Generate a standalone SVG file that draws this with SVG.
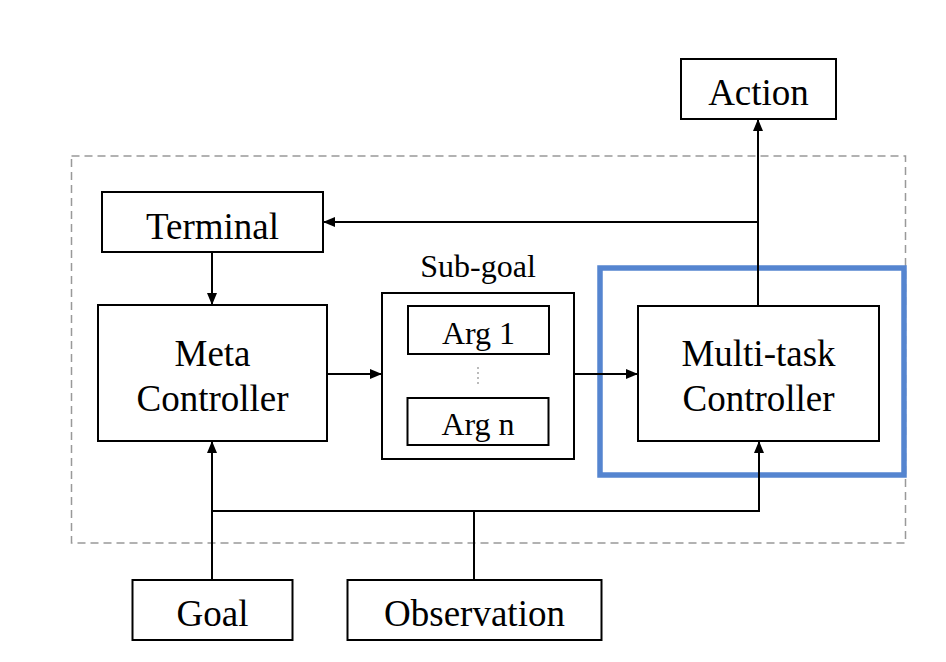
<svg xmlns="http://www.w3.org/2000/svg" width="946" height="662" viewBox="0 0 946 662">
<style>
.box{fill:#fff;stroke:#000;stroke-width:2}
.t{font-family:"Liberation Serif","Times New Roman",serif;font-size:37px;fill:#000;text-anchor:middle}
.s{font-family:"Liberation Serif","Times New Roman",serif;font-size:32px;fill:#000;text-anchor:middle}
.c{fill:none;stroke:#000;stroke-width:2}
</style>
<defs>
<marker id="ah" viewBox="0 0 12 10" refX="12" refY="5" markerWidth="12" markerHeight="10" markerUnits="userSpaceOnUse" orient="auto">
<path d="M0,0 L12,5 L0,10 z" fill="#000"/>
</marker>
</defs>
<rect width="946" height="662" fill="#fff"/>
<g id="container">
<rect x="71.5" y="156" width="834" height="387" fill="none" stroke="#999" stroke-width="1.5" stroke-dasharray="8 5"/>
</g>
<g id="highlight">
<rect x="600" y="268" width="304" height="207" fill="none" stroke="#5585d0" stroke-width="5.5"/>
</g>
<g id="connectors">
<path class="c" d="M212,252 V305" marker-end="url(#ah)"/>
<path class="c" d="M327,374 H382" marker-end="url(#ah)"/>
<path class="c" d="M574,374 H638" marker-end="url(#ah)"/>
<path class="c" d="M758,306 V119" marker-end="url(#ah)"/>
<path class="c" d="M758,222 H323" marker-end="url(#ah)"/>
<path class="c" d="M212,580 V441" marker-end="url(#ah)"/>
<path class="c" d="M212,511 H759 V441" marker-end="url(#ah)"/>
<path class="c" d="M474,580 V511"/>
</g>
<g id="action">
<rect class="box" x="681" y="59" width="155" height="60"/>
<text class="t" x="758.5" y="105">Action</text>
</g>
<g id="terminal">
<rect class="box" x="102" y="192" width="221" height="60"/>
<text class="t" x="212.5" y="239">Terminal</text>
</g>
<g id="meta-controller">
<rect class="box" x="98" y="305" width="229" height="136"/>
<text class="t" x="212.5" y="366">Meta</text>
<text class="t" x="212.5" y="411">Controller</text>
</g>
<g id="sub-goal">
<text class="s" x="478" y="277">Sub-goal</text>
<rect class="box" x="382" y="293" width="192" height="166"/>
<rect class="box" x="408" y="306" width="141" height="48"/>
<text class="s" x="478.5" y="344">Arg 1</text>
<line x1="478" y1="367" x2="478" y2="384" stroke="#bbb" stroke-width="2" stroke-dasharray="2 3"/>
<rect class="box" x="407.5" y="398" width="141" height="47"/>
<text class="s" x="478" y="435">Arg n</text>
</g>
<g id="multi-task-controller">
<rect class="box" x="638" y="306" width="241" height="135"/>
<text class="t" x="758.5" y="366">Multi-task</text>
<text class="t" x="758.5" y="411">Controller</text>
</g>
<g id="goal">
<rect class="box" x="132.5" y="580" width="160" height="60"/>
<text class="t" x="212.5" y="626">Goal</text>
</g>
<g id="observation">
<rect class="box" x="347.5" y="580" width="254" height="60"/>
<text class="t" x="474.5" y="626">Observation</text>
</g>
</svg>
